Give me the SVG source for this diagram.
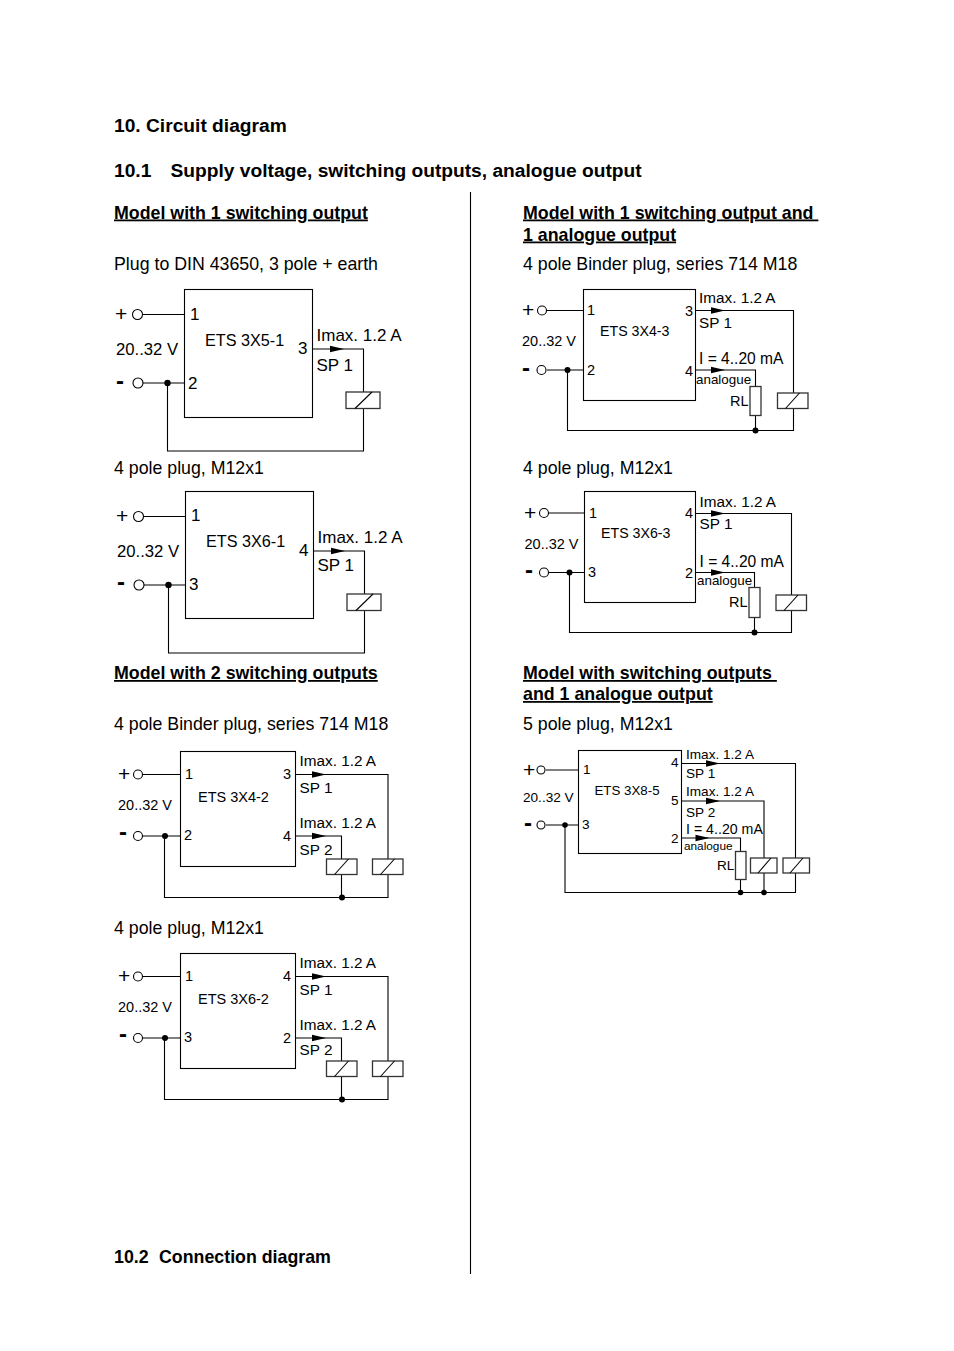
<svg xmlns="http://www.w3.org/2000/svg" width="954" height="1351" viewBox="0 0 954 1351">
<style>
text{font-family:"Liberation Sans",Arial,sans-serif;fill:#000}
.h{font-size:19.2px;font-weight:700}
.u{font-size:17.8px;font-weight:700;text-decoration:underline}
.b{font-size:17.75px}
.p{font-size:21px}
.q{font-size:24px;font-weight:700}
.l{font-size:17px}
.e{font-size:16.2px}
.v{font-size:16.7px}
.m{font-size:15.3px}
.n{font-size:14.5px}
.t{font-size:15.6px}
.s{font-size:13.6px}
.x{font-size:13.3px}
.y{font-size:14.2px}
.a{font-size:13.4px}
.z{font-size:11.8px}
.w,.c,.o{fill:none;stroke:#000;stroke-width:1.1}
.o{fill:#fff}
.g{stroke:#333;stroke-width:1.3}
.d{fill:#000}
</style>
<defs>
<g id="coil34"><rect class="o g" x="0" y="0" width="34" height="16.500"/><path class="w" d="M9 16.500L26 0"/></g>
<g id="coil30"><rect class="o g" x="0" y="0" width="30.500" height="15.500"/><path class="w" d="M8 15.500L22 0"/></g>
<path id="arr" class="d" d="M0-3.200L14 0L0 3.200Z"/>
</defs>
<rect width="954" height="1351" fill="#fff"/>
<g id="headings">
<text class="h" x="114" y="131.500">10. Circuit diagram</text>
<text class="h" x="114" y="176.500">10.1</text>
<text class="h" x="170.500" y="176.500">Supply voltage, switching outputs, analogue output</text>
<text class="u" x="114" y="218.500">Model with 1 switching output</text>
<text class="u" x="523" y="218.500" xml:space="preserve">Model with 1 switching output and </text>
<text class="u" x="523" y="240.500">1 analogue output</text>
<text class="b" x="114" y="270">Plug to DIN 43650, 3 pole + earth</text>
<text class="b" x="523" y="270">4 pole Binder plug, series 714 M18</text>
<text class="b" x="114" y="474">4 pole plug, M12x1</text>
<text class="b" x="523" y="474">4 pole plug, M12x1</text>
<text class="u" x="114" y="679">Model with 2 switching outputs</text>
<text class="u" x="523" y="679" xml:space="preserve">Model with switching outputs </text>
<text class="u" x="523" y="700">and 1 analogue output</text>
<text class="b" x="114" y="730">4 pole Binder plug, series 714 M18</text>
<text class="b" x="523" y="730">5 pole plug, M12x1</text>
<text class="b" x="114" y="934">4 pole plug, M12x1</text>
<text class="u" x="114" y="1263" style="text-decoration:none">10.2</text>
<text class="u" x="159" y="1263" style="text-decoration:none">Connection diagram</text>
</g>
<g id="connectors">
<path class="w" d="M470.500 192V1274"/>
<path class="w" d="M142 314.500H184.500M143 383H184.500M312.500 349H363.500V392M363.500 408.500V451H167.500V383"/>
<path class="w" d="M143 516.500H185.500M144 585H185.500M313.500 551H364.500V594M364.500 610.500V653H168.500V585"/>
<path class="w" d="M547 310.500H583.500M547 370H583.500M695.500 310.500H793.500V393M793.500 408V430.500H567.500V370M695.500 370H755.500V386M755.500 415V430.500"/>
<path class="w" d="M549 513H584.500M549 572.500H584.500M695.500 513.500H791.500V595M791.500 611V632.500H569.500V572.500M695.500 572.500H754.500V587.500M754.500 617.500V632.500"/>
<path class="w" d="M143 774.500H180.500M143 836H180.500M295.500 774.500H388V859M388 875V897.500H164.500V836M295.500 836H341.500V859M341.500 875V897.500"/>
<path class="w" d="M143 976.500H180.500M143 1038H180.500M295.500 976.500H388V1061M388 1077V1099.500H164.500V1038M295.500 1038H341.500V1061M341.500 1077V1099.500"/>
<path class="w" d="M546 770H578.500M546 825H578.500M681.500 763.500H795.500V858M795.500 873V892.500H565V825M681.500 801H764V858M764 873V892.500M681.500 838H740.500V851.500M740.500 879V892.500"/>
</g>
<g id="ets3x5-1">
<rect class="o" x="184.500" y="289.500" width="128" height="128"/>
<circle class="o" cx="137.500" cy="314.500" r="5"/><circle class="o" cx="138" cy="383" r="5"/><circle class="d" cx="167.500" cy="383" r="3.200"/>
<use href="#arr" x="330" y="349"/><use href="#coil34" x="346" y="392"/>
<text class="p" x="115" y="321">+</text><text class="q" x="116" y="389">-</text>
<text class="v" x="116" y="355">20..32 V</text><text class="e" x="205" y="346">ETS 3X5-1</text>
<text class="l" x="190" y="320">1</text><text class="l" x="188" y="389">2</text><text class="l" x="298" y="354">3</text>
<text class="l" x="316.500" y="341">Imax. 1.2 A</text><text class="l" x="316.500" y="371">SP 1</text>
</g>
<g id="ets3x6-1">
<rect class="o" x="185.500" y="491.500" width="128" height="127"/>
<circle class="o" cx="138.500" cy="516.500" r="5"/><circle class="o" cx="139" cy="585" r="5"/><circle class="d" cx="168.500" cy="585" r="3.200"/>
<use href="#arr" x="331" y="551"/><use href="#coil34" x="347" y="594"/>
<text class="p" x="116" y="523">+</text><text class="q" x="117" y="590">-</text>
<text class="v" x="117" y="557">20..32 V</text><text class="e" x="206" y="547">ETS 3X6-1</text>
<text class="l" x="191" y="521">1</text><text class="l" x="189" y="590">3</text><text class="l" x="299" y="556">4</text>
<text class="l" x="317.500" y="543">Imax. 1.2 A</text><text class="l" x="317.500" y="571">SP 1</text>
</g>
<g id="ets3x4-3">
<rect class="o" x="583.500" y="289.500" width="112" height="111"/>
<circle class="o" cx="542" cy="310.500" r="4.500"/><circle class="o" cx="541.500" cy="370" r="4.500"/><circle class="d" cx="567.500" cy="370" r="3"/><circle class="d" cx="755.500" cy="430.500" r="3"/>
<use href="#arr" x="711" y="310.500"/><use href="#arr" x="711" y="370"/>
<rect class="o g" x="750" y="386.500" width="11" height="29"/><use href="#coil30" x="777.500" y="393"/>
<text class="p" x="522" y="317">+</text><text class="q" x="522" y="376">-</text>
<text class="n" x="522" y="346">20..32 V</text><text class="y" x="600" y="336">ETS 3X4-3</text>
<text class="n" x="587" y="315">1</text><text class="n" x="587" y="375">2</text><text class="n" x="685" y="316">3</text><text class="n" x="685" y="376">4</text>
<text class="m" x="699" y="303">Imax. 1.2 A</text><text class="m" x="699" y="328">SP 1</text><text class="t" x="699" y="364">I = 4..20 mA</text>
<text class="a" x="696" y="384">analogue</text><text class="n" x="730" y="406">RL</text>
</g>
<g id="ets3x6-3">
<rect class="o" x="584.500" y="491.500" width="111" height="111"/>
<circle class="o" cx="544" cy="513" r="4.500"/><circle class="o" cx="544" cy="572.500" r="4.500"/><circle class="d" cx="569.500" cy="572.500" r="3"/><circle class="d" cx="754.500" cy="632.500" r="3"/>
<use href="#arr" x="711" y="513.500"/><use href="#arr" x="711" y="572.500"/>
<rect class="o g" x="749" y="587.500" width="11" height="30"/><use href="#coil30" x="776" y="595"/>
<text class="p" x="524" y="520">+</text><text class="q" x="525" y="578">-</text>
<text class="n" x="524.500" y="549">20..32 V</text><text class="y" x="601" y="538">ETS 3X6-3</text>
<text class="n" x="589" y="518">1</text><text class="n" x="588" y="577">3</text><text class="n" x="685" y="518">4</text><text class="n" x="685" y="578">2</text>
<text class="m" x="699.500" y="507">Imax. 1.2 A</text><text class="m" x="699.500" y="529">SP 1</text><text class="t" x="699.500" y="567">I = 4..20 mA</text>
<text class="a" x="697" y="585">analogue</text><text class="n" x="729" y="607">RL</text>
</g>
<g id="ets3x4-2">
<rect class="o" x="180.500" y="751.500" width="115" height="115"/>
<circle class="o" cx="138" cy="774.500" r="4.500"/><circle class="o" cx="138" cy="836" r="4.500"/><circle class="d" cx="165" cy="836" r="3"/><circle class="d" cx="342" cy="897.500" r="3"/>
<use href="#arr" x="312" y="774.500"/><use href="#arr" x="312" y="836"/>
<use href="#coil30" x="326.500" y="859"/><use href="#coil30" x="372.500" y="859"/>
<text class="p" x="118" y="781">+</text><text class="q" x="119" y="840">-</text>
<text class="n" x="118" y="810">20..32 V</text><text class="n" x="198" y="802">ETS 3X4-2</text>
<text class="n" x="185" y="779">1</text><text class="n" x="184" y="840">2</text><text class="n" x="283" y="779">3</text><text class="n" x="283" y="841">4</text>
<text class="m" x="299.500" y="766">Imax. 1.2 A</text><text class="m" x="299.500" y="793">SP 1</text><text class="m" x="299.500" y="828">Imax. 1.2 A</text><text class="m" x="299.500" y="855">SP 2</text>
</g>
<g id="ets3x6-2">
<rect class="o" x="180.500" y="953.500" width="115" height="115"/>
<circle class="o" cx="138" cy="976.500" r="4.500"/><circle class="o" cx="138" cy="1038" r="4.500"/><circle class="d" cx="165" cy="1038" r="3"/><circle class="d" cx="342" cy="1099.500" r="3"/>
<use href="#arr" x="312" y="976.500"/><use href="#arr" x="312" y="1038"/>
<use href="#coil30" x="326.500" y="1061"/><use href="#coil30" x="372.500" y="1061"/>
<text class="p" x="118" y="983">+</text><text class="q" x="119" y="1042">-</text>
<text class="n" x="118" y="1012">20..32 V</text><text class="n" x="198" y="1004">ETS 3X6-2</text>
<text class="n" x="185" y="981">1</text><text class="n" x="184" y="1042">3</text><text class="n" x="283" y="981">4</text><text class="n" x="283" y="1043">2</text>
<text class="m" x="299.500" y="968">Imax. 1.2 A</text><text class="m" x="299.500" y="995">SP 1</text><text class="m" x="299.500" y="1030">Imax. 1.2 A</text><text class="m" x="299.500" y="1055">SP 2</text>
</g>
<g id="ets3x8-5">
<rect class="o" x="578.500" y="750.500" width="103" height="103"/>
<circle class="o" cx="541" cy="770" r="4"/><circle class="o" cx="541" cy="825" r="4"/><circle class="d" cx="565" cy="825" r="2.800"/><circle class="d" cx="740.500" cy="892.500" r="2.800"/><circle class="d" cx="764" cy="892.500" r="2.800"/>
<use href="#arr" x="706" y="763.500"/><use href="#arr" x="706" y="801"/><use href="#arr" x="695.500" y="838"/>
<rect class="o g" x="735.500" y="851.500" width="10.500" height="28"/>
<rect class="o g" x="750.500" y="858" width="26.500" height="15"/><path class="w" d="M758 873L771 858"/>
<rect class="o g" x="783" y="858" width="26.500" height="15"/><path class="w" d="M790 873L803 858"/>
<text class="p" x="523" y="777">+</text><text class="q" x="524" y="831">-</text>
<text class="s" x="523" y="802">20..32 V</text><text class="x" x="594.500" y="795">ETS 3X8-5</text>
<text class="s" x="671" y="767">4</text><text class="s" x="671" y="805">5</text><text class="s" x="671" y="843">2</text><text class="s" x="583" y="774">1</text><text class="s" x="582" y="829">3</text>
<text class="s" x="686" y="759">Imax. 1.2 A</text><text class="s" x="686" y="778">SP 1</text><text class="s" x="686" y="796">Imax. 1.2 A</text><text class="s" x="686" y="817">SP 2</text><text class="y" x="686" y="834">I = 4..20 mA</text>
<text class="z" x="684" y="850">analogue</text><text class="s" x="717" y="870">RL</text>
</g>
</svg>
